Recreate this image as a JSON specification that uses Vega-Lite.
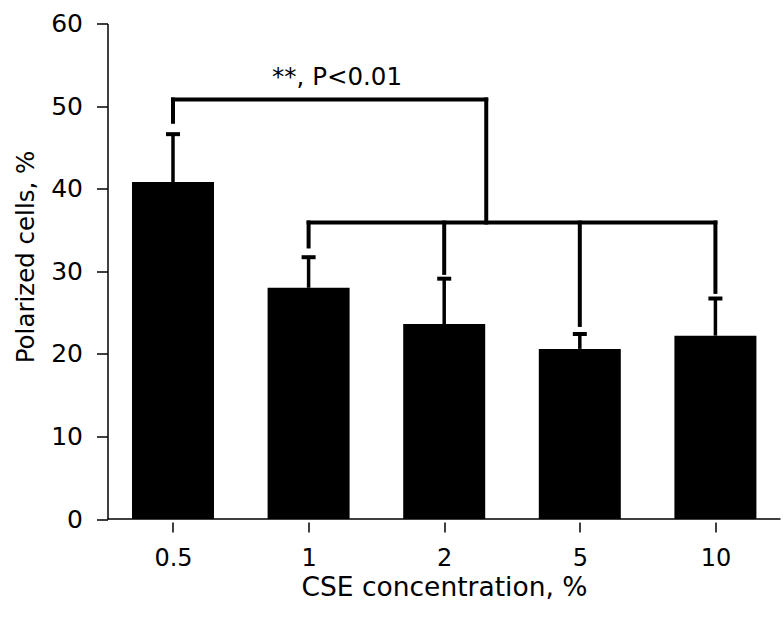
{
  "$schema": "https://vega.github.io/schema/vega-lite/v6.json",
  "width": 673,
  "height": 495.5,
  "autosize": {"type": "none"},
  "padding": {"left": 107.5, "top": 23.5, "right": 3.5, "bottom": 104},
  "background": "white",
  "config": {
    "view": {"stroke": null},
    "font": "DejaVu Sans"
  },
  "datasets": {
    "bars": [
      {"cse": "0.5", "i": 0, "mean": 40.8, "upper": 46.6},
      {"cse": "1", "i": 1, "mean": 28.0, "upper": 31.7},
      {"cse": "2", "i": 2, "mean": 23.6, "upper": 29.1},
      {"cse": "5", "i": 3, "mean": 20.6, "upper": 22.4},
      {"cse": "10", "i": 4, "mean": 22.2, "upper": 26.7}
    ],
    "segments": [
      {"x": 0, "x2": 2.31, "y": 50.8, "y2": 50.8},
      {"x": 0, "x2": 0, "y": 50.8, "y2": 48.1},
      {"x": 2.31, "x2": 2.31, "y": 50.8, "y2": 35.9},
      {"x": 1, "x2": 4, "y": 35.9, "y2": 35.9},
      {"x": 1, "x2": 1, "y": 35.9, "y2": 33.0},
      {"x": 2, "x2": 2, "y": 35.9, "y2": 29.8},
      {"x": 3, "x2": 3, "y": 35.9, "y2": 23.5},
      {"x": 4, "x2": 4, "y": 35.9, "y2": 27.5}
    ],
    "note": [
      {"x": 1.21, "y": 52.5, "label": "**, P<0.01"}
    ],
    "base": [
      {"y": 0}
    ]
  },
  "layer": [
    {
      "data": {"name": "bars"},
      "mark": {"type": "bar", "size": 82, "color": "black"},
      "encoding": {
        "x": {
          "field": "i",
          "type": "quantitative",
          "scale": {"domain": [-0.483, 4.48], "nice": false, "zero": false, "padding": 0},
          "axis": {
            "title": "CSE concentration, %",
            "values": [0, 1, 2, 3, 4],
            "labelExpr": "['0.5','1','2','5','10'][datum.value]",
            "grid": false,
            "domain": false,
            "offset": 3,
            "tickSize": 10,
            "tickWidth": 1.5,
            "tickColor": "black",
            "labelFontSize": 24,
            "labelColor": "black",
            "labelPadding": 14,
            "titleFontSize": 26.5,
            "titleFontWeight": "normal",
            "titleColor": "black",
            "titlePadding": 4
          }
        },
        "y": {
          "field": "mean",
          "type": "quantitative",
          "scale": {"domain": [0, 60], "nice": false, "padding": 0},
          "axis": {
            "title": "Polarized cells, %",
            "values": [0, 10, 20, 30, 40, 50, 60],
            "grid": false,
            "domainColor": "black",
            "domainWidth": 1.5,
            "tickColor": "black",
            "tickWidth": 1.5,
            "tickSize": 11,
            "labelFontSize": 25,
            "labelColor": "black",
            "labelPadding": 14,
            "titleFontSize": 24.5,
            "titleFontWeight": "normal",
            "titleColor": "black",
            "titlePadding": 12,
            "titleY": 233
          }
        }
      }
    },
    {
      "data": {"name": "bars"},
      "mark": {"type": "rule", "color": "black", "strokeWidth": 3.5},
      "encoding": {
        "x": {"field": "i", "type": "quantitative"},
        "y": {"field": "mean", "type": "quantitative"},
        "y2": {"field": "upper"}
      }
    },
    {
      "data": {"name": "bars"},
      "mark": {"type": "tick", "orient": "horizontal", "color": "black", "opacity": 1, "size": 14, "thickness": 4},
      "encoding": {
        "x": {"field": "i", "type": "quantitative"},
        "y": {"field": "upper", "type": "quantitative"}
      }
    },
    {
      "data": {"name": "segments"},
      "mark": {"type": "rule", "color": "black", "strokeWidth": 4, "strokeCap": "square"},
      "encoding": {
        "x": {"field": "x", "type": "quantitative"},
        "x2": {"field": "x2"},
        "y": {"field": "y", "type": "quantitative"},
        "y2": {"field": "y2"}
      }
    },
    {
      "data": {"name": "base"},
      "mark": {"type": "rule", "color": "black", "strokeWidth": 1.5},
      "encoding": {
        "y": {"field": "y", "type": "quantitative"}
      }
    },
    {
      "data": {"name": "note"},
      "mark": {"type": "text", "fontSize": 24.5, "align": "center", "baseline": "alphabetic", "color": "black"},
      "encoding": {
        "x": {"field": "x", "type": "quantitative"},
        "y": {"field": "y", "type": "quantitative"},
        "text": {"field": "label"}
      }
    }
  ]
}
